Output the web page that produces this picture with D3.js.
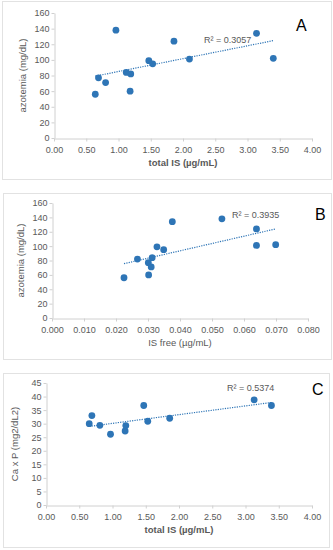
<!DOCTYPE html>
<html>
<head>
<meta charset="utf-8">
<script src="https://cdn.jsdelivr.net/npm/d3@7"></script>
<style>
  body { margin: 0; background: #fff; }
  svg { display: block; font-family: "Liberation Sans", Arial, sans-serif; }
</style>
</head>
<body>
<svg id="chart" width="333" height="550"></svg>
<script>
// panel A: total IS vs azotemia
const totalIS_A = [0.64, 0.69, 0.80, 0.96, 1.12, 1.19, 1.18, 1.47, 1.53, 1.86, 2.10, 3.14, 3.40];
const azotemia_A = [56, 77, 71, 138, 84, 82, 60, 99, 95, 124, 101, 134, 102];
// panel B: free IS vs azotemia
const freeIS_B = [0.0225, 0.0267, 0.0301, 0.0310, 0.0302, 0.0313, 0.0328, 0.0349, 0.0376, 0.0531, 0.0639, 0.0639, 0.0699];
const azotemia_B = [56, 82, 77, 71, 60, 84, 99, 95, 134, 138, 124, 101, 102];
// panel C: total IS vs Ca x P
const totalIS_C = [0.65, 0.69, 0.81, 0.97, 1.19, 1.20, 1.47, 1.53, 1.86, 3.13, 3.39];
const caxp_C = [30.0, 33.0, 29.4, 26.1, 27.3, 29.3, 36.7, 30.9, 32.0, 38.8, 36.7];

const xTicksTotal = [0, 0.5, 1, 1.5, 2, 2.5, 3, 3.5, 4];
const xTicksFree = [0, 0.01, 0.02, 0.03, 0.04, 0.05, 0.06, 0.07, 0.08];
const yTicksAzot = [0, 20, 40, 60, 80, 100, 120, 140, 160];
const yTicksCaP = [0, 5, 10, 15, 20, 25, 30, 35, 40, 45];
const r2Labels = ['R² = 0.3057', 'R² = 0.3935', 'R² = 0.5374'];
const panelLetters = ['A', 'B', 'C'];

const blue = '#2e75b6';
const svg = d3.select('#chart');

const panels = [
  { box: [2, 1, 331, 179], x0: 54, x1: 312, y0: 138, y1: 13,
    xs: totalIS_A, ys: azotemia_A, xTicks: xTicksTotal, yTicks: yTicksAzot,
    xFmt: d3.format('.2f'), xTitle: 'total IS (µg/mL)', yTitle: 'azotemia (mg/dL)',
    boldX: true, r2: [204, 43], letter: [296, 31] },
  { box: [3, 193, 331, 359], x0: 52, x1: 308, y0: 318, y1: 203,
    xs: freeIS_B, ys: azotemia_B, xTicks: xTicksFree, yTicks: yTicksAzot,
    xFmt: d3.format('.3f'), xTitle: 'IS free (µg/mL)', yTitle: 'azotemia (mg/dL)',
    boldX: false, r2: [232, 218], letter: [315, 220] },
  { box: [3, 373, 329, 547], x0: 46, x1: 312, y0: 505, y1: 383,
    xs: totalIS_C, ys: caxp_C, xTicks: xTicksTotal, yTicks: yTicksCaP,
    xFmt: d3.format('.2f'), xTitle: 'total IS (µg/mL)', yTitle: 'Ca x P (mg2/dL2)',
    boldX: true, r2: [227, 391], letter: [312, 395] }
];

function fit(xs, ys) {
  const mx = d3.mean(xs), my = d3.mean(ys);
  let sxy = 0, sxx = 0;
  xs.forEach((x, i) => { sxy += (x - mx) * (ys[i] - my); sxx += (x - mx) * (x - mx); });
  const b = sxy / sxx;
  return x => my + b * (x - mx);
}

panels.forEach((p, i) => {
  const g = svg.append('g');
  g.append('rect')
    .attr('x', p.box[0] + 0.5).attr('y', p.box[1] + 0.5)
    .attr('width', p.box[2] - p.box[0]).attr('height', p.box[3] - p.box[1])
    .attr('fill', '#fff').attr('stroke', '#e2e2e2');

  const x = d3.scaleLinear()
    .domain([p.xTicks[0], p.xTicks[p.xTicks.length - 1]])
    .range([p.x0, p.x1]);
  const y = d3.scaleLinear()
    .domain([p.yTicks[0], p.yTicks[p.yTicks.length - 1]])
    .range([p.y0, p.y1]);

  const xAxis = g.append('g')
    .attr('transform', 'translate(0,' + (p.y0 + 0.5) + ')')
    .call(d3.axisBottom(x).tickValues(p.xTicks).tickFormat(p.xFmt).tickSize(3).tickSizeOuter(0));
  const yAxis = g.append('g')
    .attr('transform', 'translate(' + (p.x0 + 0.5) + ',0)')
    .call(d3.axisLeft(y).tickValues(p.yTicks).tickSize(3).tickSizeOuter(0));

  [xAxis, yAxis].forEach(a => {
    a.select('.domain').attr('stroke', '#d0d0d0');
    a.selectAll('.tick line').attr('stroke', '#d0d0d0');
    a.selectAll('.tick text')
      .attr('fill', '#595959')
      .style('font-size', '9px')
      .style('font-family', '"Liberation Sans", Arial, sans-serif');
  });
  xAxis.selectAll('.tick text').attr('dy', '0.9em');
  yAxis.selectAll('.tick text').attr('x', -5);

  const line = fit(p.xs, p.ys);
  const ext = d3.extent(p.xs);
  g.append('line')
    .attr('x1', x(ext[0])).attr('y1', y(line(ext[0])))
    .attr('x2', x(ext[1])).attr('y2', y(line(ext[1])))
    .attr('stroke', blue).attr('stroke-width', 1.2)
    .attr('stroke-dasharray', '1.2,1.2');

  g.selectAll('circle.pt')
    .data(p.xs.map((d, k) => [d, p.ys[k]]))
    .enter().append('circle')
    .attr('class', 'pt')
    .attr('cx', d => x(d[0]))
    .attr('cy', d => y(d[1]))
    .attr('r', 3.4)
    .attr('fill', blue);

  g.append('text')
    .attr('x', p.r2[0]).attr('y', p.r2[1])
    .attr('fill', '#595959').style('font-size', '9px')
    .text(r2Labels[i]);

  g.append('text')
    .attr('x', p.letter[0]).attr('y', p.letter[1])
    .attr('fill', '#000').style('font-size', '16px')
    .text(panelLetters[i]);

  g.append('text')
    .attr('x', (p.x0 + p.x1) / 2).attr('y', p.y0 + 28)
    .attr('text-anchor', 'middle')
    .attr('fill', '#595959')
    .style('font-size', '9.5px')
    .style('font-weight', p.boldX ? 'bold' : 'normal')
    .text(p.xTitle);

  g.append('text')
    .attr('transform', 'translate(' + (p.x0 - 28) + ',' + ((p.y0 + p.y1) / 2) + ') rotate(-90)')
    .attr('text-anchor', 'middle')
    .attr('fill', '#595959')
    .style('font-size', '9.5px')
    .text(p.yTitle);
});
</script>
</body>
</html>
